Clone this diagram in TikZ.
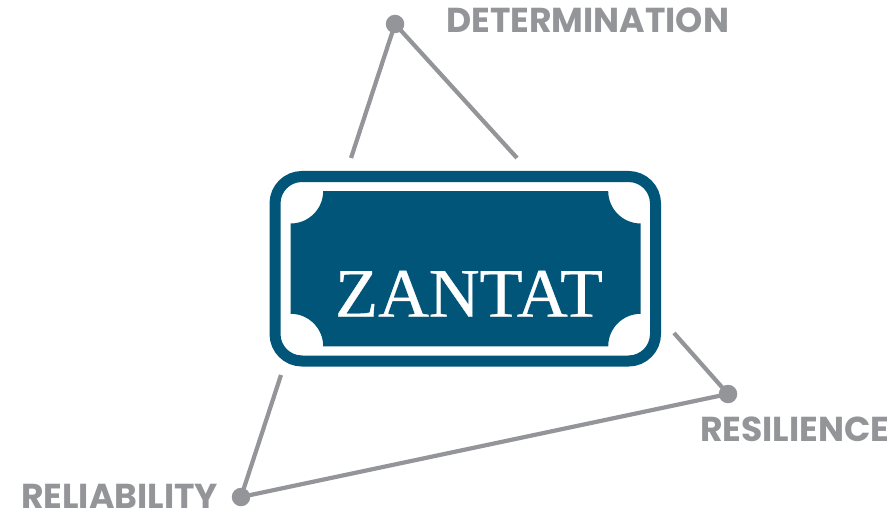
\documentclass[tikz,border=0pt]{standalone}
\usepackage{fontspec}
\setmainfont{Liberation Serif}
\newfontfamily\labelfont{Poppins}
\newfontfamily\plaquefont[FakeBold=0.5]{Liberation Serif}
\definecolor{zblue}{HTML}{005578}
\definecolor{zgray}{HTML}{939598}
\tikzset{
  dotnode/.style={circle,fill=zgray,draw=none,minimum size=18.5pt,inner sep=0pt},
  link/.style={draw=zgray,line width=4.2pt},
  lbl/.style={text=zgray,inner sep=0pt,anchor=base west,font=\labelfont\bfseries\fontsize{34.6}{34.6}\selectfont}
}
\begin{document}
\begin{tikzpicture}[x=1pt,y=-1pt]
\useasboundingbox (0,0) rectangle (893,513);
\draw[zblue,line width=11pt,rounded corners=27pt] (275,176.5) rectangle (655.5,361);
\fill[zblue] (323.2,191) -- (608.2,191)
  .. controls (608.2,208.95) and (622.75,223.5) .. (640.7,223.5)
  -- (640.7,313.8)
  .. controls (622.75,313.8) and (608.2,328.35) .. (608.2,346.3)
  -- (323.2,346.3)
  .. controls (323.2,328.35) and (308.65,313.8) .. (290.7,313.8)
  -- (290.7,223.5)
  .. controls (308.65,223.5) and (323.2,208.95) .. (323.2,191)
  -- cycle;
\node (zantat) [text=white,inner sep=0pt,anchor=base,xscale=1.012,font=\plaquefont\fontsize{69.5}{69.5}\selectfont] at (469,316.7) {ZANTAT};
\node (ddot) [dotnode] at (395,24) {};
\node (sdot) [dotnode] at (728,394) {};
\node (rdot) [dotnode] at (241,497) {};
\coordinate (d1) at (351,158);
\coordinate (d2) at (517,158);
\coordinate (s1) at (674,333);
\coordinate (r1) at (281,375);
\draw[link] (ddot.center) -- (d1);
\draw[link] (ddot.center) -- (d2);
\draw[link] (sdot.center) -- (s1);
\draw[link] (sdot.center) -- (rdot.center);
\draw[link] (rdot.center) -- (r1);
\node (determination) [lbl] at (446,33) {DETERMINATION};
\node (resilience) [lbl] at (700,441) {RESILIENCE};
\node (reliability) [lbl] at (21,508) {RELIABILITY};
\end{tikzpicture}
\end{document}
